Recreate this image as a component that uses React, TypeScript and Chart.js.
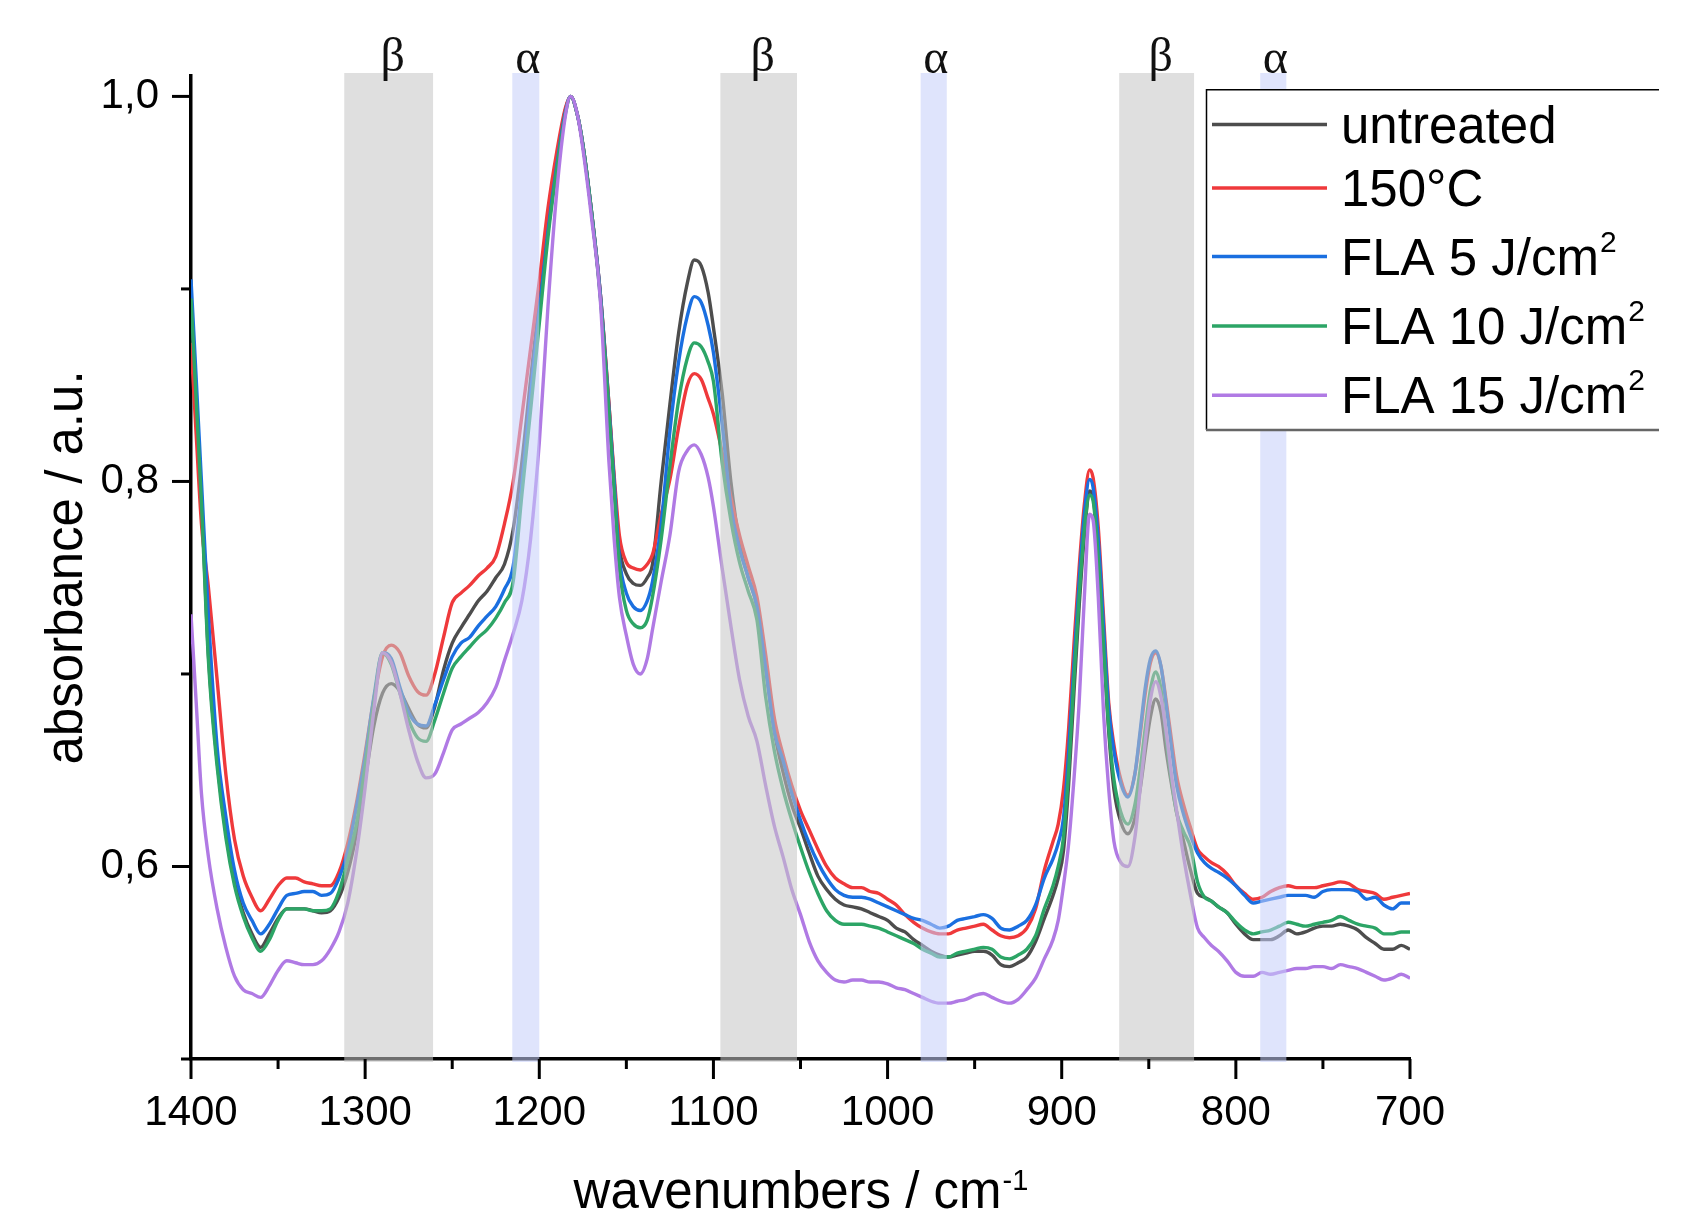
import React, { useEffect, useRef } from 'react';
import { Chart, registerables } from 'chart.js';

Chart.register(...registerables);

// ---------------- data ----------------
const wavenumbers = [
  1400, 1397, 1394, 1390, 1385, 1380, 1375, 1370, 1365, 1360,
  1355, 1350, 1345, 1340, 1335, 1330, 1325, 1320, 1315, 1310,
  1305, 1300, 1295, 1290, 1285, 1280, 1275, 1270, 1265, 1260,
  1255, 1250, 1245, 1240, 1235, 1230, 1225, 1220, 1215, 1210,
  1205, 1200, 1195, 1190, 1185, 1182, 1178, 1175, 1170, 1165,
  1160, 1157, 1154, 1150, 1146, 1142, 1138, 1135, 1130, 1125,
  1120, 1115, 1111, 1107, 1103, 1100, 1095, 1090, 1085, 1080,
  1075, 1070, 1065, 1060, 1055, 1050, 1045, 1040, 1035, 1030,
  1025, 1020, 1015, 1010, 1005, 1000, 995, 990, 985, 980,
  975, 970, 965, 960, 955, 950, 945, 940, 935, 930,
  925, 920, 915, 910, 905, 902, 899, 896, 893, 890,
  887, 884, 882, 879, 876, 873, 870, 866, 862, 858,
  855, 852, 849, 846, 843, 840, 837, 834, 830, 826,
  822, 818, 814, 810, 805, 800, 795, 790, 785, 780,
  775, 770, 765, 760, 755, 750, 745, 740, 735, 730,
  725, 720, 715, 710, 705, 700,
];

const untreated = [
  0.890, 0.843, 0.792, 0.710, 0.655, 0.618, 0.592, 0.576, 0.565, 0.558,
  0.565, 0.573, 0.578, 0.578, 0.578, 0.577, 0.576, 0.577, 0.584, 0.597,
  0.617, 0.645, 0.673, 0.690, 0.695, 0.691, 0.682, 0.674, 0.672, 0.683,
  0.702, 0.716, 0.724, 0.731, 0.738, 0.743, 0.750, 0.757, 0.775, 0.810,
  0.853, 0.894, 0.935, 0.966, 0.993, 1.000, 0.990, 0.975, 0.940, 0.898,
  0.840, 0.800, 0.766, 0.752, 0.747, 0.746, 0.750, 0.757, 0.800, 0.840,
  0.877, 0.903, 0.915, 0.912, 0.898, 0.880, 0.846, 0.800, 0.768, 0.750,
  0.735, 0.703, 0.670, 0.649, 0.632, 0.620, 0.607, 0.595, 0.588, 0.583,
  0.580, 0.579, 0.578, 0.576, 0.574, 0.572, 0.568, 0.566, 0.562, 0.559,
  0.556, 0.554, 0.553, 0.554, 0.555, 0.556, 0.556, 0.554, 0.549, 0.548,
  0.550, 0.553, 0.561, 0.573, 0.585, 0.594, 0.608, 0.643, 0.690, 0.735,
  0.772, 0.795, 0.792, 0.762, 0.715, 0.670, 0.640, 0.623, 0.617, 0.625,
  0.640, 0.660, 0.678, 0.687, 0.680, 0.660, 0.643, 0.628, 0.613, 0.598,
  0.586, 0.584, 0.582, 0.579, 0.576, 0.570, 0.565, 0.562, 0.562, 0.562,
  0.564, 0.567, 0.565, 0.566, 0.568, 0.569, 0.569, 0.570, 0.569, 0.567,
  0.563, 0.560, 0.557, 0.557, 0.559, 0.557,
];

const treated150 = [
  0.872, 0.824, 0.778, 0.745, 0.697, 0.648, 0.614, 0.595, 0.584, 0.577,
  0.583, 0.590, 0.594, 0.594, 0.592, 0.591, 0.590, 0.590, 0.597, 0.612,
  0.633, 0.659, 0.687, 0.709, 0.715, 0.711, 0.699, 0.691, 0.689, 0.700,
  0.719, 0.737, 0.742, 0.746, 0.751, 0.755, 0.761, 0.778, 0.800, 0.834,
  0.869, 0.904, 0.942, 0.971, 0.994, 1.000, 0.990, 0.975, 0.940, 0.898,
  0.840, 0.803, 0.772, 0.758, 0.755, 0.754, 0.757, 0.762, 0.783, 0.801,
  0.828, 0.850, 0.856, 0.853, 0.843, 0.835, 0.815, 0.792, 0.772, 0.756,
  0.740, 0.710, 0.677, 0.658, 0.642, 0.629, 0.619, 0.609, 0.600, 0.594,
  0.591, 0.589, 0.589, 0.587, 0.586, 0.583, 0.580, 0.575, 0.571, 0.568,
  0.566, 0.565, 0.565, 0.567, 0.568, 0.569, 0.570, 0.567, 0.564, 0.563,
  0.564, 0.568, 0.578, 0.598, 0.613, 0.622, 0.640, 0.672, 0.715, 0.755,
  0.788, 0.806, 0.802, 0.776, 0.730, 0.685, 0.663, 0.645, 0.637, 0.648,
  0.668, 0.690, 0.706, 0.711, 0.704, 0.686, 0.666, 0.647, 0.632, 0.620,
  0.609, 0.605, 0.602, 0.600, 0.596, 0.590, 0.586, 0.583, 0.584, 0.587,
  0.589, 0.590, 0.589, 0.589, 0.589, 0.590, 0.591, 0.592, 0.591, 0.588,
  0.587, 0.586, 0.583, 0.584, 0.585, 0.586,
];

const fla5 = [
  0.905, 0.853, 0.800, 0.730, 0.662, 0.626, 0.598, 0.581, 0.572, 0.565,
  0.570, 0.578, 0.585, 0.586, 0.587, 0.587, 0.585, 0.586, 0.594, 0.608,
  0.631, 0.657, 0.688, 0.711, 0.708, 0.693, 0.680, 0.674, 0.673, 0.684,
  0.697, 0.709, 0.716, 0.719, 0.725, 0.730, 0.735, 0.744, 0.756, 0.798,
  0.845, 0.888, 0.930, 0.964, 0.992, 1.000, 0.990, 0.975, 0.940, 0.898,
  0.838, 0.800, 0.760, 0.742, 0.735, 0.733, 0.738, 0.748, 0.778, 0.826,
  0.862, 0.886, 0.896, 0.893, 0.881, 0.867, 0.830, 0.787, 0.765, 0.750,
  0.735, 0.703, 0.670, 0.655, 0.638, 0.624, 0.612, 0.602, 0.594, 0.588,
  0.585, 0.584, 0.584, 0.583, 0.581, 0.579, 0.577, 0.575, 0.573, 0.572,
  0.570, 0.568, 0.569, 0.572, 0.573, 0.574, 0.575, 0.573, 0.568, 0.567,
  0.569, 0.572, 0.580, 0.594, 0.604, 0.612, 0.625, 0.660, 0.705, 0.748,
  0.783, 0.801, 0.797, 0.770, 0.725, 0.682, 0.660, 0.643, 0.636, 0.648,
  0.670, 0.693, 0.708, 0.712, 0.704, 0.684, 0.662, 0.642, 0.627, 0.616,
  0.607, 0.602, 0.599, 0.597, 0.594, 0.590, 0.585, 0.581, 0.582, 0.583,
  0.584, 0.585, 0.585, 0.585, 0.584, 0.587, 0.588, 0.588, 0.588, 0.587,
  0.583, 0.584, 0.580, 0.578, 0.581, 0.581,
];

const fla10 = [
  0.895, 0.842, 0.789, 0.707, 0.652, 0.615, 0.590, 0.574, 0.563, 0.556,
  0.562, 0.572, 0.578, 0.578, 0.578, 0.577, 0.577, 0.578, 0.587, 0.603,
  0.622, 0.652, 0.685, 0.711, 0.705, 0.690, 0.676, 0.667, 0.665, 0.676,
  0.690, 0.703, 0.709, 0.714, 0.719, 0.723, 0.729, 0.737, 0.748, 0.793,
  0.837, 0.882, 0.927, 0.962, 0.991, 1.000, 0.990, 0.975, 0.940, 0.896,
  0.836, 0.795, 0.755, 0.733, 0.726, 0.724, 0.728, 0.740, 0.770, 0.808,
  0.842, 0.864, 0.872, 0.870, 0.862, 0.852, 0.810, 0.780, 0.758, 0.743,
  0.728, 0.688, 0.660, 0.640, 0.624, 0.610, 0.597, 0.586, 0.577, 0.572,
  0.570, 0.570, 0.570, 0.569, 0.568, 0.566, 0.564, 0.562, 0.560, 0.557,
  0.555, 0.553, 0.553, 0.555, 0.556, 0.557, 0.558, 0.557, 0.553, 0.552,
  0.554, 0.557, 0.564, 0.578, 0.590, 0.600, 0.615, 0.650, 0.697, 0.740,
  0.775, 0.793, 0.790, 0.760, 0.715, 0.672, 0.645, 0.628, 0.622, 0.632,
  0.650, 0.672, 0.692, 0.701, 0.692, 0.667, 0.645, 0.628, 0.618, 0.610,
  0.592, 0.584, 0.582, 0.579, 0.576, 0.571, 0.567, 0.565, 0.566, 0.567,
  0.569, 0.571, 0.570, 0.569, 0.570, 0.571, 0.572, 0.574, 0.572, 0.570,
  0.569, 0.568, 0.565, 0.565, 0.566, 0.566,
];

const fla15 = [
  0.731, 0.685, 0.638, 0.605, 0.578, 0.558, 0.543, 0.536, 0.534, 0.532,
  0.538, 0.546, 0.551, 0.550, 0.549, 0.549, 0.551, 0.557, 0.566, 0.581,
  0.607, 0.641, 0.681, 0.711, 0.706, 0.690, 0.671, 0.655, 0.646, 0.648,
  0.659, 0.671, 0.674, 0.677, 0.680, 0.685, 0.693, 0.707, 0.721, 0.738,
  0.770, 0.820, 0.891, 0.950, 0.990, 1.000, 0.990, 0.973, 0.937, 0.895,
  0.810, 0.770, 0.740, 0.720, 0.705, 0.700, 0.708, 0.723, 0.748, 0.772,
  0.805, 0.816, 0.819, 0.814, 0.802, 0.787, 0.755, 0.725, 0.697, 0.678,
  0.665, 0.642, 0.621, 0.605, 0.588, 0.575, 0.561, 0.551, 0.545, 0.541,
  0.540, 0.541, 0.541, 0.540, 0.540, 0.539, 0.537, 0.536, 0.534, 0.532,
  0.530, 0.529, 0.529, 0.530, 0.531, 0.533, 0.534, 0.532, 0.530, 0.529,
  0.531, 0.536, 0.542, 0.552, 0.562, 0.572, 0.590, 0.612, 0.645, 0.685,
  0.740, 0.783, 0.780, 0.740, 0.680, 0.640, 0.613, 0.602, 0.600, 0.615,
  0.640, 0.665, 0.687, 0.696, 0.688, 0.670, 0.648, 0.629, 0.605, 0.585,
  0.568, 0.563, 0.559, 0.556, 0.551, 0.545, 0.543, 0.543, 0.545, 0.544,
  0.545, 0.546, 0.547, 0.547, 0.548, 0.548, 0.547, 0.549, 0.548, 0.547,
  0.545, 0.543, 0.541, 0.542, 0.544, 0.542,
];

const seriesNames = ['untreated', '150°C', 'FLA 5 J/cm', 'FLA 10 J/cm', 'FLA 15 J/cm'];
const seriesSuperscripts = ['', '', '2', '2', '2'];
const seriesValues = [untreated, treated150, fla5, fla10, fla15];
const seriesColors = ['#4d4d4d', '#ef393b', '#1a6fe0', '#2ca566', '#b07ae4'];

// shaded regions (wavenumber ranges)
const betaBands = [[1312, 1261], [1096, 1052], [867, 824]];
const alphaBands = [[1215.5, 1200], [981, 966], [786, 771]];

const xMajorTicks = [1400, 1300, 1200, 1100, 1000, 900, 800, 700];
const xMinorTicks = [1350, 1250, 1150, 1050, 950, 850, 750];
const yMajorTicks = [0.6, 0.8, 1.0];
const yMinorTicks = [0.5, 0.7, 0.9];

const X_MIN = 700;
const X_MAX = 1400;
const Y_MIN = 0.5;
const Y_MAX = 1.0106;

const SANS = '"Liberation Sans", Arial, Helvetica, sans-serif';
const SERIF = '"Liberation Serif", "Times New Roman", "DejaVu Serif", serif';

const overlayPlugin = {
  id: 'overlay',
  afterDraw(chart: any) {
    const ctx: CanvasRenderingContext2D = chart.ctx;
    const a = chart.chartArea;
    const xs = chart.scales.x;
    const ys = chart.scales.y;
    ctx.save();

    // shaded bands, drawn over the curves
    const bandTop = a.top - 3;
    const bandBottom = a.bottom + 3;
    const band = (b: number[], color: string) => {
      const x1 = xs.getPixelForValue(b[0]);
      const x2 = xs.getPixelForValue(b[1]);
      ctx.fillStyle = color;
      ctx.fillRect(Math.min(x1, x2), bandTop, Math.abs(x2 - x1), bandBottom - bandTop);
    };
    betaBands.forEach((b) => band(b, 'rgba(198,198,198,0.56)'));
    alphaBands.forEach((b) => band(b, 'rgba(198,206,250,0.56)'));

    // band labels
    ctx.fillStyle = '#111';
    ctx.font = `48px ${SERIF}`;
    ctx.textAlign = 'center';
    ctx.textBaseline = 'alphabetic';
    betaBands.forEach((b) => ctx.fillText('β', xs.getPixelForValue((b[0] + b[1]) / 2) + 4, 71));
    alphaBands.forEach((b) => ctx.fillText('α', xs.getPixelForValue((b[0] + b[1]) / 2) + 2, 73));

    // tick marks
    ctx.strokeStyle = '#000';
    ctx.lineWidth = 3;
    ctx.lineCap = 'butt';
    const xTick = (v: number, len: number) => {
      const x = xs.getPixelForValue(v);
      ctx.beginPath();
      ctx.moveTo(x, a.bottom);
      ctx.lineTo(x, a.bottom + len);
      ctx.stroke();
    };
    xMajorTicks.forEach((v) => xTick(v, 20));
    xMinorTicks.forEach((v) => xTick(v, 10));
    const yTick = (v: number, len: number) => {
      const y = ys.getPixelForValue(v);
      ctx.beginPath();
      ctx.moveTo(a.left - len, y);
      ctx.lineTo(a.left, y);
      ctx.stroke();
    };
    yMajorTicks.forEach((v) => yTick(v, 19));
    yMinorTicks.forEach((v) => yTick(v, 10));

    // legend
    const lx = 1206;
    const ly = 89;
    const lw = 453;
    const lh = 341;
    ctx.fillStyle = '#fff';
    ctx.fillRect(lx, ly, lw, lh);
    ctx.strokeStyle = '#000';
    ctx.lineWidth = 1.5;
    ctx.beginPath();
    ctx.moveTo(lx + 0.5, ly + lh);
    ctx.lineTo(lx + 0.5, ly + 0.75);
    ctx.lineTo(lx + lw, ly + 0.75);
    ctx.stroke();
    ctx.strokeStyle = '#666';
    ctx.lineWidth = 2.5;
    ctx.beginPath();
    ctx.moveTo(lx, ly + lh);
    ctx.lineTo(lx + lw, ly + lh);
    ctx.stroke();

    const rowY = [124.5, 188, 256.5, 326, 395.3];
    ctx.textAlign = 'left';
    ctx.textBaseline = 'alphabetic';
    seriesNames.forEach((name, i) => {
      const y = rowY[i];
      ctx.strokeStyle = seriesColors[i];
      ctx.lineWidth = 3.5;
      ctx.beginPath();
      ctx.moveTo(1212, y);
      ctx.lineTo(1327, y);
      ctx.stroke();
      ctx.fillStyle = '#000';
      ctx.font = `51px ${SANS}`;
      const base = y + 18;
      ctx.fillText(name, 1341, base);
      if (seriesSuperscripts[i]) {
        const w = ctx.measureText(name).width;
        ctx.font = `30px ${SANS}`;
        ctx.fillText(seriesSuperscripts[i], 1341 + w + 1, base - 23);
      }
    });

    // x axis title
    ctx.fillStyle = '#000';
    ctx.font = `51px ${SANS}`;
    const xt = 'wavenumbers / cm';
    const xtw = ctx.measureText(xt).width;
    ctx.font = `29px ${SANS}`;
    const supW = ctx.measureText('-1').width;
    const cx = (a.left + a.right) / 2;
    const startX = cx - (xtw + supW) / 2;
    ctx.font = `51px ${SANS}`;
    ctx.fillText(xt, startX, 1208);
    ctx.font = `29px ${SANS}`;
    ctx.fillText('-1', startX + xtw + 1, 1190);

    // y axis title
    ctx.save();
    ctx.translate(82, (a.top + a.bottom) / 2);
    ctx.rotate(-Math.PI / 2);
    ctx.font = `51px ${SANS}`;
    ctx.textAlign = 'center';
    ctx.textBaseline = 'alphabetic';
    ctx.fillText('absorbance / a.u.', 0, 0);
    ctx.restore();

    ctx.restore();
  },
};

export default function App() {
  const canvasRef = useRef<HTMLCanvasElement | null>(null);

  useEffect(() => {
    const canvas = canvasRef.current;
    if (!canvas) return;
    const datasets = seriesValues.map((vals, i) => ({
      label: seriesNames[i] + seriesSuperscripts[i],
      data: wavenumbers.map((w, j) => ({ x: w, y: vals[j] })),
      borderColor: seriesColors[i],
      backgroundColor: seriesColors[i],
      borderWidth: 3.4,
      pointRadius: 0,
      fill: false,
      cubicInterpolationMode: 'monotone' as const,
      order: seriesValues.length - i,
    }));

    const chart = new Chart(canvas, {
      type: 'line',
      data: { datasets },
      options: {
        animation: false,
        responsive: false,
        devicePixelRatio: 1,
        layout: { padding: { left: 0, top: 76, right: 273, bottom: 0 } },
        plugins: {
          legend: { display: false },
          tooltip: { enabled: false },
          title: { display: false },
        },
        scales: {
          x: {
            type: 'linear',
            min: X_MIN,
            max: X_MAX,
            reverse: true,
            afterBuildTicks: (scale: any) => {
              scale.ticks = [...xMajorTicks, ...xMinorTicks]
                .sort((p, q) => q - p)
                .map((v) => ({ value: v }));
            },
            afterFit: (scale: any) => {
              scale.height = 157;
            },
            ticks: {
              autoSkip: false,
              maxRotation: 0,
              minRotation: 0,
              padding: 9,
              color: '#000',
              font: { family: SANS, size: 42 },
              callback: (v: any) => (xMajorTicks.includes(Number(v)) ? String(v) : ''),
            },
            grid: {
              display: true,
              drawOnChartArea: false,
              drawTicks: true,
              tickLength: 20,
              tickColor: 'rgba(0,0,0,0)',
              color: 'rgba(0,0,0,0)',
            },
            border: { display: true, color: '#000', width: 3.5 },
          },
          y: {
            type: 'linear',
            min: Y_MIN,
            max: Y_MAX,
            afterBuildTicks: (scale: any) => {
              scale.ticks = [...yMinorTicks, ...yMajorTicks]
                .sort((p, q) => p - q)
                .map((v) => ({ value: v }));
            },
            afterFit: (scale: any) => {
              scale.width = 191;
            },
            ticks: {
              autoSkip: false,
              padding: 13,
              color: '#000',
              font: { family: SANS, size: 42 },
              callback: (v: any) => {
                const n = Number(v);
                return yMajorTicks.some((t) => Math.abs(t - n) < 1e-6) ? n.toFixed(1).replace('.', ',') : '';
              },
            },
            grid: {
              display: true,
              drawOnChartArea: false,
              drawTicks: true,
              tickLength: 19,
              tickColor: 'rgba(0,0,0,0)',
              color: 'rgba(0,0,0,0)',
            },
            border: { display: true, color: '#000', width: 3.5 },
          },
        },
      },
      plugins: [overlayPlugin],
    });
    return () => chart.destroy();
  }, []);

  return (
    <div style={{ position: 'fixed', left: 0, top: 0, width: 1683, height: 1216, background: '#fff' }}>
      <canvas ref={canvasRef} width={1683} height={1216} style={{ width: 1683, height: 1216, display: 'block' }} />
    </div>
  );
}
